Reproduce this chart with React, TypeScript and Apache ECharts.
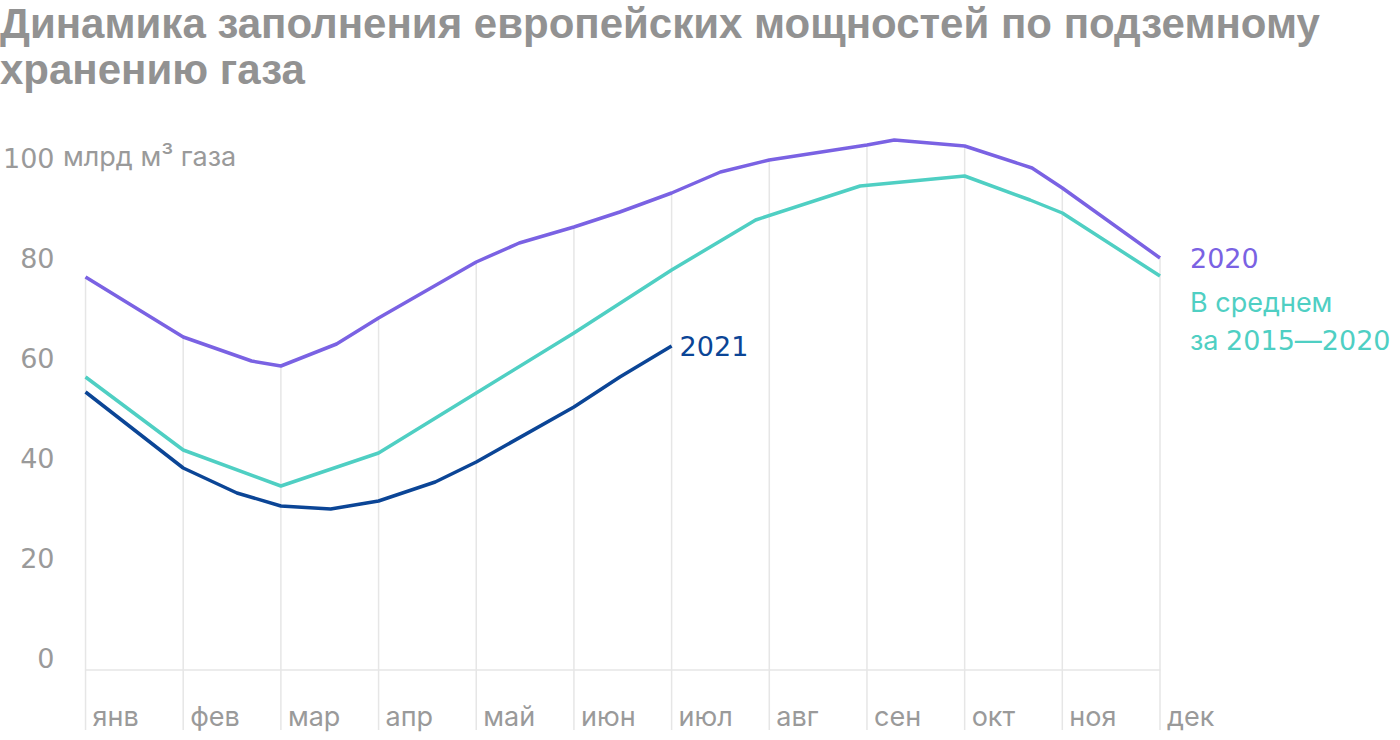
import React, { useEffect, useRef } from "react";
import * as echarts from "echarts";

const months = ["янв", "фев", "мар", "апр", "май", "июн", "июл", "авг", "сен", "окт", "ноя", "дек"];

// x = month index (0 = янв) with fraction within the month; y = млрд м³
const series2020: [number, number][] = [
  [0, 78.6], [1, 66.6], [1.7, 61.8], [2, 60.8], [2.57, 65.2], [3, 70.4],
  [4, 81.6], [4.44, 85.4], [5, 88.6], [5.47, 91.6], [6, 95.4], [6.5, 99.6],
  [7, 102], [8, 105], [8.28, 106], [9, 104.8], [9.69, 100.4], [10, 96.4], [11, 82.4],
];
const seriesAvg: [number, number][] = [
  [0, 58.6], [1, 44], [2, 36.8], [3, 43.4], [4, 55.4], [5, 67.4], [6, 80],
  [6.86, 90], [7.93, 96.8], [9, 98.8], [9.67, 94], [10, 91.4], [11, 78.8],
];
const series2021: [number, number][] = [
  [0, 55.6], [1, 40.4], [1.55, 35.4], [2, 32.8], [2.51, 32.2], [3, 33.8],
  [3.58, 37.6], [4, 41.6], [5, 52.6], [5.47, 58.6], [6, 64.8],
];

const title = "Динамика заполнения европейских мощностей по подземному\nхранению газа";
const unitLabel = "млрд м³ газа";
const name2020 = "2020";
const nameAvg = "{t|В среднем}\n{t|за }{d|2015}{t|—}{d|2020}";
const name2021 = "2021";

const C2020 = "#7a62e3";
const CAVG = "#4fcfc3";
const C2021 = "#0b4596";
const GRAY = "#9a9a9a";
const GRID = "#e6e6e6";
const FONT = "Inter";
const NUMFONT = "DejaVu Sans";
const FS = 27;

export default function App() {
  const ref = useRef<HTMLDivElement>(null);
  useEffect(() => {
    if (!ref.current) return;
    const chart = echarts.init(ref.current, undefined, { renderer: "svg" });
    const gridData = series2020.filter((p) => Number.isInteger(p[0]));
    chart.setOption({
      animation: false,
      title: {
        text: title,
        left: 0,
        top: 0,
        padding: 0,
        textStyle: {
          fontFamily: "Liberation Sans",
          fontWeight: "bold",
          fontSize: 42,
          lineHeight: 46,
          color: "#929292",
        },
      },
      grid: { left: 84, right: 240, top: 120, bottom: 70, containLabel: false },
      xAxis: {
        type: "value",
        min: 0,
        max: 11,
        interval: 1,
        axisLine: { show: true, lineStyle: { color: GRID, width: 1.5 } },
        axisTick: { show: false },
        splitLine: { show: false },
        axisLabel: {
          formatter: (v: number) => months[v] ?? "",
          align: "left",
          padding: [0, 0, 0, 7],
          margin: 33,
          fontSize: FS,
          fontFamily: FONT,
          color: GRAY,
        },
      },
      yAxis: {
        type: "value",
        min: 0,
        max: 110,
        interval: 20,
        axisLine: { show: false },
        axisTick: { show: false },
        splitLine: { show: false },
        axisLabel: {
          formatter: (v: number) => (v <= 100 ? String(v) : ""),
          align: "right",
          verticalAlign: "bottom",
          lineHeight: 24,
          margin: 31,
          fontSize: FS,
          fontFamily: NUMFONT,
          color: GRAY,
        },
      },
      graphic: [
        {
          type: "text",
          left: 63,
          top: 143,
          style: { text: unitLabel, fontSize: FS, fontFamily: FONT, fill: GRAY },
        },
      ],
      series: [
        {
          type: "custom",
          silent: true,
          z: 1,
          clip: false,
          data: gridData,
          renderItem: (params: any, api: any) => {
            const top = api.coord([api.value(0), api.value(1)]);
            const base = api.coord([api.value(0), 0]);
            return {
              type: "line",
              shape: { x1: top[0], y1: top[1], x2: top[0], y2: base[1] + 60 },
              style: { stroke: GRID, lineWidth: 1.5 },
            };
          },
        },
        {
          type: "line",
          name: name2020,
          z: 3,
          data: series2020,
          symbol: "none",
          lineStyle: { color: C2020, width: 3.5 },
          itemStyle: { color: C2020 },
          endLabel: {
            show: true,
            formatter: name2020,
            distance: 30,
            color: C2020,
            fontSize: FS,
            fontFamily: NUMFONT,
          },
        },
        {
          type: "line",
          name: "avg",
          z: 3,
          data: seriesAvg,
          symbol: "none",
          lineStyle: { color: CAVG, width: 3.5 },
          itemStyle: { color: CAVG },
          endLabel: {
            show: true,
            formatter: nameAvg,
            distance: 30,
            offset: [0, 45],
            color: CAVG,
            fontSize: FS,
            lineHeight: 38,
            fontFamily: FONT,
            rich: {
              t: { fontFamily: FONT, fontSize: FS, lineHeight: 38, color: CAVG },
              d: { fontFamily: NUMFONT, fontSize: FS, lineHeight: 38, color: CAVG },
            },
          },
        },
        {
          type: "line",
          name: name2021,
          z: 3,
          data: series2021,
          symbol: "none",
          lineStyle: { color: C2021, width: 3.5 },
          itemStyle: { color: C2021 },
          endLabel: {
            show: true,
            formatter: name2021,
            distance: 8,
            color: C2021,
            fontSize: FS,
            fontFamily: NUMFONT,
          },
        },
      ],
    });
    return () => chart.dispose();
  }, []);
  return (
    <div
      ref={ref}
      style={{ position: "absolute", left: 0, top: 0, width: 1400, height: 740, background: "#fff" }}
    />
  );
}
